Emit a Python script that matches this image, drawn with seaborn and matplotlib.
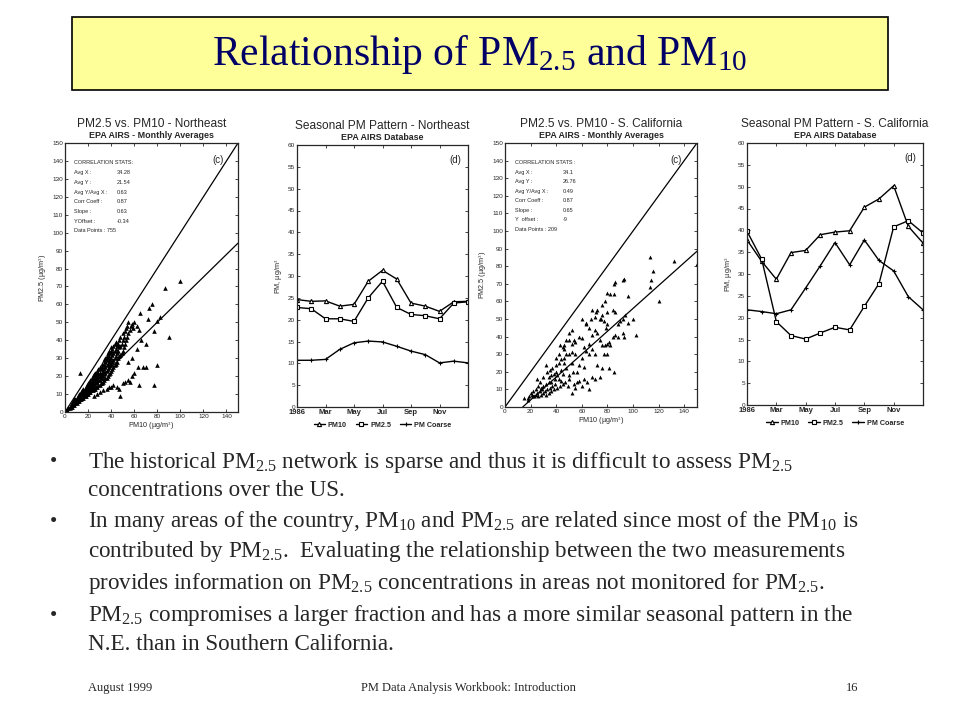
import numpy as np
import pandas as pd
import seaborn as sns
import matplotlib.pyplot as plt
from matplotlib.patches import Rectangle

# scatter data (PM10, PM2.5 in ug/m3)
ne_pm10 = [2, 3, 4, 4, 5, 5, 6, 6, 6, 7, 7, 7, 8, 8, 8, 8, 9, 9, 9, 10, 10, 10, 10,
           11, 11, 11, 11, 12, 12, 12, 12, 12, 13, 13, 13, 13, 14, 14, 14, 14, 14,
           15, 15, 15, 15, 15, 16, 16, 16, 16, 16, 16, 17, 17, 17, 17, 17, 18, 18, 18,
           18, 18, 18, 19, 19, 19, 19, 19, 20, 20, 20, 20, 20, 20, 20, 21, 21, 21, 21,
           21, 22, 22, 22, 22, 22, 23, 23, 23, 23, 23, 24, 24, 24, 24, 24, 25, 25, 25,
           25, 25, 26, 26, 26, 26, 26, 27, 27, 27, 27, 28, 28, 28, 28, 28, 29, 29, 29,
           29, 29, 30, 30, 30, 30, 30, 31, 31, 31, 31, 32, 32, 32, 32, 32, 33, 33, 33,
           33, 34, 34, 34, 34, 34, 35, 35, 35, 35, 35, 36, 36, 36, 36, 36, 37, 37, 37,
           37, 37, 38, 38, 38, 38, 38, 39, 39, 39, 39, 40, 40, 40, 40, 40, 41, 41, 41,
           41, 42, 42, 42, 42, 43, 43, 43, 43, 44, 44, 44, 44, 45, 45, 45, 46, 46, 46,
           47, 47, 47, 48, 48, 48, 49, 49, 50, 50, 50, 51, 51, 52, 52, 53, 53, 54, 54,
           55, 55, 56, 57, 58, 59, 60, 62, 64,
           25, 28, 30, 33, 36, 38, 40, 42, 45, 47, 48, 50, 52, 55, 56, 58, 60, 63, 68,
           70, 64, 77, 80, 90, 13, 100, 87, 75, 73, 65, 82, 80, 77, 72, 66, 62, 58, 55, 70]
ne_pm25 = [1, 2, 2, 3, 3, 4, 3, 4, 5, 4, 5, 6, 4, 5, 6, 7, 5, 6, 7, 5, 6, 7, 8,
           6, 7, 8, 9, 6, 7, 8, 9, 10, 7, 8, 9, 10, 7, 8, 9, 10, 11,
           8, 9, 10, 11, 12, 8, 9, 10, 11, 12, 13, 9, 10, 11, 12, 13, 9, 10, 11,
           12, 13, 14, 10, 11, 12, 14, 15, 10, 11, 12, 13, 14, 15, 16, 11, 12, 14, 15,
           17, 11, 13, 14, 16, 18, 12, 14, 15, 17, 19, 12, 14, 16, 18, 20, 13, 15, 17,
           19, 21, 13, 16, 18, 20, 22, 14, 17, 19, 21, 14, 17, 19, 21, 23, 15, 18, 20,
           22, 24, 15, 18, 20, 22, 25, 16, 19, 21, 24, 16, 19, 22, 25, 27, 17, 20, 23,
           26, 18, 21, 24, 27, 29, 19, 22, 25, 28, 30, 19, 23, 26, 29, 31, 20, 24, 27,
           30, 33, 21, 25, 28, 31, 34, 22, 26, 29, 33, 23, 27, 30, 34, 36, 24, 28, 32,
           35, 25, 29, 33, 37, 26, 30, 34, 38, 27, 31, 35, 39, 28, 33, 37, 30, 34, 38,
           31, 36, 40, 32, 37, 42, 33, 38, 34, 40, 44, 36, 42, 38, 45, 40, 47, 42, 48,
           44, 50, 46, 48, 49, 47, 50, 48, 46,
           9, 10, 11, 12, 13, 14, 14, 15, 14, 13, 9, 16, 17, 18, 17, 20, 22, 25, 25,
           25, 15, 15, 26, 42, 22, 73, 69, 60, 58, 55, 53, 51, 45, 52, 40, 35, 30, 28, 38]

ca_pm10 = [113, 132, 150, 116, 114, 113, 120, 85, 86, 92, 93, 80, 82, 78, 76, 96, 85,
           84, 86, 80, 100, 92, 94, 96, 90, 88, 102, 92, 93, 86, 84, 88, 80, 82, 81, 80,
           79, 74, 75, 77, 76, 70, 71, 68, 60, 63, 66, 70, 72, 68, 74, 76, 78, 80, 77,
           70, 68, 66, 62, 60, 54, 52, 55, 50, 48, 50, 52, 46, 44, 45, 46, 60, 63, 66,
           58, 62, 56, 53, 50, 50, 52, 48, 46, 40, 42, 44, 45, 40, 38, 41, 36, 34, 39,
           42, 44, 36, 34, 32, 30, 28, 26, 24, 22, 20, 21, 19, 18, 18, 15, 23, 25, 27,
           29, 31, 33, 35, 37, 39, 41, 43, 45, 47, 49, 38, 36, 34, 32, 30, 28, 26, 24,
           22, 52, 55, 58, 60, 64, 66, 68, 70, 74, 76, 81, 85, 72, 62, 56, 54, 32, 30,
           35, 27, 25, 33, 37, 40, 42, 43, 46, 48, 55, 58, 63, 67, 72, 52, 50]
ca_pm25 = [85, 83, 81, 77, 72, 68, 60, 70, 71, 72, 73, 65, 64, 60, 58, 63, 64,
           55, 54, 54, 50, 50, 52, 48, 49, 47, 41, 42, 40, 41, 40, 40, 36, 35, 37, 47,
           45, 50, 50, 49, 52, 51, 54, 55, 50, 48, 45, 44, 42, 41, 38, 35, 35, 30, 30,
           30, 33, 36, 34, 39, 38, 36, 37, 38, 30, 30, 31, 28, 27, 34, 33, 28, 32, 30,
           24, 23, 20, 20, 16, 18, 25, 22, 25, 28, 25, 21, 19, 20, 19, 18, 18, 17, 16,
           16, 15, 14, 14, 13, 12, 11, 12, 10, 9, 8, 7, 6, 5, 4, 5, 6, 8, 9,
           10, 9, 10, 11, 12, 13, 11, 12, 13, 14, 12, 10, 9, 8, 7, 8, 7, 6, 7,
           6, 8, 11, 15, 12, 14, 10, 17, 16, 17, 22, 22, 20, 24, 16, 14, 13, 24, 17,
           21, 14, 16, 20, 22, 24, 30, 35, 35, 38, 30, 40, 47, 50, 55, 44, 42]

# regression stats printed in the panels
ne_stats = [('CORRELATION STATS:', ''), ('Avg X :', '34.28'), ('Avg Y :', '21.54'),
            ('Avg Y/Avg X :', '0.63'), ('Corr Coeff :', '0.87'), ('Slope :', '0.63'),
            ('YOffset :', '-0.34'), ('Data Points : 755', '')]
ca_stats = [('CORRELATION STATS :', ''), ('Avg X :', '34.1'), ('Avg Y :', '26.76'),
            ('Avg Y/Avg X :', '0.49'), ('Corr Coeff :', '0.87'), ('Slope :', '0.65'),
            ('Y  offset :', '-9'), ('Data Points : 209', '')]
ne_slope, ne_offset = 0.63, -0.34
ca_slope, ca_offset = 0.65, -9

# seasonal patterns, Jan 1986 .. Jan 1987
months = [1, 2, 3, 4, 5, 6, 7, 8, 9, 10, 11, 12, 13]
month_ticks = [1, 3, 5, 7, 9, 11]
month_labels = ['1986', 'Mar', 'May', 'Jul', 'Sep', 'Nov']
ne_pm10_season = [24.6, 24.2, 24.3, 23.1, 23.5, 28.8, 31.3, 29.3, 23.8, 23.1, 21.9, 24.1, 24.2]
ne_pm25_season = [22.8, 22.5, 20.2, 20.2, 19.6, 25.0, 28.8, 22.8, 21.2, 20.9, 20.2, 23.8, 24.1]
ne_coarse_season = [10.7, 10.7, 10.9, 13.2, 14.7, 15.1, 14.9, 13.9, 12.8, 12.0, 10.1, 10.5, 10.1]
ca_pm10_season = [37.8, 32.9, 28.8, 34.9, 35.4, 39.0, 39.6, 39.9, 45.3, 47.2, 50.2, 40.9, 37.1]
ca_pm25_season = [39.8, 33.4, 19.1, 15.9, 15.1, 16.5, 17.8, 17.2, 22.6, 27.8, 40.8, 42.2, 39.4]
ca_coarse_season = [21.8, 21.4, 20.9, 21.8, 26.8, 31.9, 37.2, 32.1, 37.8, 33.1, 30.7, 24.8, 21.8]

bullets = [
    ['The historical PM$_{2.5}$ network is sparse and thus it is difficult to assess PM$_{2.5}$',
     'concentrations over the US.'],
    ['In many areas of the country, PM$_{10}$ and PM$_{2.5}$ are related since most of the PM$_{10}$ is',
     'contributed by PM$_{2.5}$.  Evaluating the relationship between the two measurements',
     'provides information on PM$_{2.5}$ concentrations in areas not monitored for PM$_{2.5}$.'],
    ['PM$_{2.5}$ compromises a larger fraction and has a more similar seasonal pattern in the',
     'N.E. than in Southern California.'],
]

sns.set_style('ticks')
plt.rcParams['font.family'] = ['Liberation Sans', 'DejaVu Sans']
plt.rcParams['mathtext.fontset'] = 'custom'
plt.rcParams['mathtext.rm'] = 'Liberation Serif'
plt.rcParams['mathtext.it'] = 'Liberation Serif'

fig = plt.figure(figsize=(9.6, 7.2), dpi=100)
W, H = 960, 720


def box(l, t, r, b):
    return [l / W, 1 - b / H, (r - l) / W, (b - t) / H]


def style_axes(ax):
    ax.tick_params(direction='in', length=2.5, width=0.6, labelsize=4.6,
                   top=True, right=True, pad=1.5)
    for s in ax.spines.values():
        s.set_linewidth(0.9)


def panel_titles(ax, title, sub):
    ax.text(0.5, 1.05, title, transform=ax.transAxes, fontsize=8.6, ha='center', va='bottom')
    ax.text(0.5, 1.012, sub, transform=ax.transAxes, fontsize=6.4, ha='center',
            va='bottom', fontweight='bold')


def scatter_panel(ax, x, y, slope, offset, stats, title, sub, msize):
    df = pd.DataFrame({'pm10': x, 'pm25': y})
    sns.scatterplot(data=df, x='pm10', y='pm25', marker='^', color='black',
                    s=msize, linewidth=0, ax=ax)
    ax.plot([0, 150], [0, 150], color='black', lw=0.9)
    x0 = max(0, -offset / slope)
    ax.plot([x0, 150], [slope * x0 + offset, slope * 150 + offset], color='black', lw=0.9)
    ax.set_xlim(0, 150)
    ax.set_ylim(0, 150)
    ax.set_xticks(range(0, 141, 20))
    ax.set_yticks(range(0, 151, 10))
    style_axes(ax)
    ax.set_xlabel('PM10 (µg/m$^3$)', fontsize=5.2, labelpad=1)
    ax.set_ylabel('PM2.5 (µg/m$^3$)', fontsize=5.2, labelpad=2)
    ax.text(0.92, 0.955, '(c)', transform=ax.transAxes, fontsize=7, ha='right', va='top')
    for i, (k, v) in enumerate(stats):
        yy = 0.935 - i * 0.036
        ax.text(0.05, yy, k, transform=ax.transAxes, fontsize=4.0, va='top')
        if v:
            ax.text(0.3, yy, v, transform=ax.transAxes, fontsize=4.0, va='top')
    panel_titles(ax, title, sub)


def season_panel(ax, pm10, pm25, coarse, title):
    for vals, mk, lab in [(pm10, '^', 'PM10'), (pm25, 's', 'PM2.5'), (coarse, '+', 'PM Coarse')]:
        sns.lineplot(x=months, y=vals, marker=mk, color='black', lw=1.0,
                     markersize=3, markerfacecolor='white', markeredgecolor='black',
                     markeredgewidth=0.8, label=lab, ax=ax)
    ax.set_xlim(1, 13)
    ax.set_ylim(0, 60)
    ax.set_xticks(month_ticks)
    ax.set_xticklabels(month_labels, fontweight='bold')
    ax.set_yticks(range(0, 61, 5))
    style_axes(ax)
    ax.tick_params(axis='x', labelsize=5.5)
    ax.set_ylabel('PM, µg/m$^3$', fontsize=5.2, labelpad=2)
    ax.text(0.96, 0.96, '(d)', transform=ax.transAxes, fontsize=7, ha='right', va='top')
    panel_titles(ax, title, 'EPA AIRS Database')
    ax.legend(loc='upper center', bbox_to_anchor=(0.5, -0.045), ncol=3, frameon=False,
              handlelength=1.6, columnspacing=1.2, handletextpad=0.4,
              borderaxespad=0, prop={'weight': 'bold', 'size': 5.2})


ax1 = fig.add_axes(box(65, 143, 238, 412))
scatter_panel(ax1, ne_pm10, ne_pm25, ne_slope, ne_offset, ne_stats,
              'PM2.5 vs. PM10 - Northeast', 'EPA AIRS - Monthly Averages', 11)
ax2 = fig.add_axes(box(297, 145, 468, 407))
season_panel(ax2, ne_pm10_season, ne_pm25_season, ne_coarse_season,
             'Seasonal PM Pattern - Northeast')
ax3 = fig.add_axes(box(505, 143, 697, 407))
scatter_panel(ax3, ca_pm10, ca_pm25, ca_slope, ca_offset, ca_stats,
              'PM2.5 vs. PM10 - S. California', 'EPA AIRS - Monthly Averages', 8)
ax4 = fig.add_axes(box(747, 143, 923, 405))
season_panel(ax4, ca_pm10_season, ca_pm25_season, ca_coarse_season,
             'Seasonal PM Pattern - S. California')

# title banner
fig.patches.append(Rectangle((72 / W, 1 - 90 / H), 816 / W, 73 / H, transform=fig.transFigure,
                             facecolor='#FFFF99', edgecolor='black', lw=1.2))
fig.text(480 / W, 1 - 55 / H, 'Relationship of PM$_{2.5}$ and PM$_{10}$', ha='center',
         va='center', fontsize=30, color='#000066', family='Liberation Serif')

# bullet text
line_y = [[462, 490], [522, 552, 584], [616, 644]]
for lines, ys in zip(bullets, line_y):
    fig.text(50 / W, 1 - ys[0] / H, '•', fontsize=15, va='center', family='Liberation Serif')
    for txt, yy in zip(lines, ys):
        fig.text(88 / W, 1 - yy / H, txt, fontsize=16.7, va='center', family='Liberation Serif')

# footer
fig.text(88 / W, 1 - 688 / H, 'August 1999', fontsize=9, va='center', family='Liberation Serif')
fig.text(468 / W, 1 - 688 / H, 'PM Data Analysis Workbook: Introduction', fontsize=9,
         ha='center', va='center', family='Liberation Serif')
fig.text(858 / W, 1 - 688 / H, '16', fontsize=9, ha='right', va='center', family='Liberation Serif')

fig.savefig('out.png', dpi=100)
